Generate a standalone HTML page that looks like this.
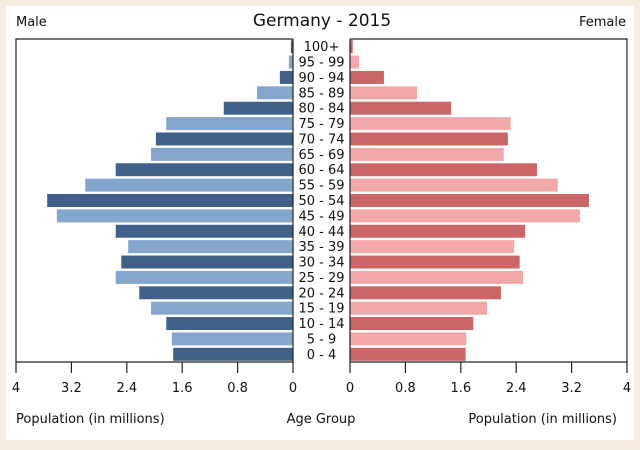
<!DOCTYPE html>
<html><head><meta charset="utf-8"><style>
body{margin:0;background:#f4ede0;}
svg{display:block;font-family:"DejaVu Sans","Liberation Sans",sans-serif;}
</style></head><body>
<svg id="c" width="640" height="450">
<rect x="6" y="6" width="628" height="434" fill="#fff"/>
<text x="16" y="26" font-size="13" fill="#111">Male</text>
<text x="322" y="26" font-size="17" text-anchor="middle" fill="#111">Germany - 2015</text>
<text x="626" y="26" font-size="13" text-anchor="end" fill="#111">Female</text>
<text x="16" y="423" font-size="13" fill="#111">Population (in millions)</text>
<text x="321" y="423" font-size="13" text-anchor="middle" fill="#111">Age Group</text>
<text x="617" y="423" font-size="13" text-anchor="end" fill="#111">Population (in millions)</text>
<g id="g"></g>
</svg>
<script>
const ages=["100+","95 - 99","90 - 94","85 - 89","80 - 84","75 - 79","70 - 74","65 - 69","60 - 64","55 - 59","50 - 54","45 - 49","40 - 44","35 - 39","30 - 34","25 - 29","20 - 24","15 - 19","10 - 14","5 - 9","0 - 4"];
const male=[0.03,0.06,0.19,0.52,1.0,1.83,1.98,2.05,2.56,3.0,3.55,3.41,2.56,2.38,2.48,2.56,2.22,2.05,1.83,1.75,1.73];
const female=[0.04,0.13,0.49,0.97,1.46,2.32,2.28,2.22,2.7,3.0,3.45,3.32,2.53,2.37,2.45,2.5,2.18,1.98,1.78,1.68,1.67];
const ticks=[0,0.8,1.6,2.4,3.2,4];
const NS="http://www.w3.org/2000/svg";
const g=document.getElementById('g');
const plotTop=39,bot=362,L0=293,L1=16,R0=350,R1=627,maxV=4;
const xl=v=>L0-(L0-L1)*v/maxV, xr=v=>R0+(R1-R0)*v/maxV;
const rowH=(bot-plotTop)/ages.length;
function mk(t,a){const e=document.createElementNS(NS,t);for(const k in a)e.setAttribute(k,a[k]);g.appendChild(e);return e;}
ages.forEach((a,i)=>{
  const y=plotTop+i*rowH+1.2, h=rowH-2.4, dark=i%2===0;
  let r=mk('rect',{x:xl(male[i]),y:y,width:L0-xl(male[i]),height:h,fill:dark?'#41618a':'#84a6cc'});
  
  
  r=mk('rect',{x:R0,y:y,width:xr(female[i])-R0,height:h,fill:dark?'#cc6666':'#f2a8a8'});
  
  
  const t=mk('text',{x:321.5,y:plotTop+i*rowH+rowH/2+4.5,'font-size':13,'text-anchor':'middle',fill:'#111'});
  t.textContent=a;
  
  
});
let p=mk('path',{d:`M${L0},${plotTop}H${L1}V${bot}H${L0}V${plotTop}M${R0},${plotTop}H${R1}V${bot}H${R0}V${plotTop}`,fill:'none',stroke:'#222','stroke-width':1.2});


ticks.forEach(v=>{
  [xl(v),xr(v)].forEach(x=>{
    const l=mk('line',{x1:x,x2:x,y1:bot,y2:bot+11,stroke:'#222','stroke-width':1.2});
    
    
    const t=mk('text',{x:x,y:bot+30,'font-size':13,'text-anchor':'middle',fill:'#111'});
    t.textContent=String(v);
    
    
  });
});
</script>
</body></html>
